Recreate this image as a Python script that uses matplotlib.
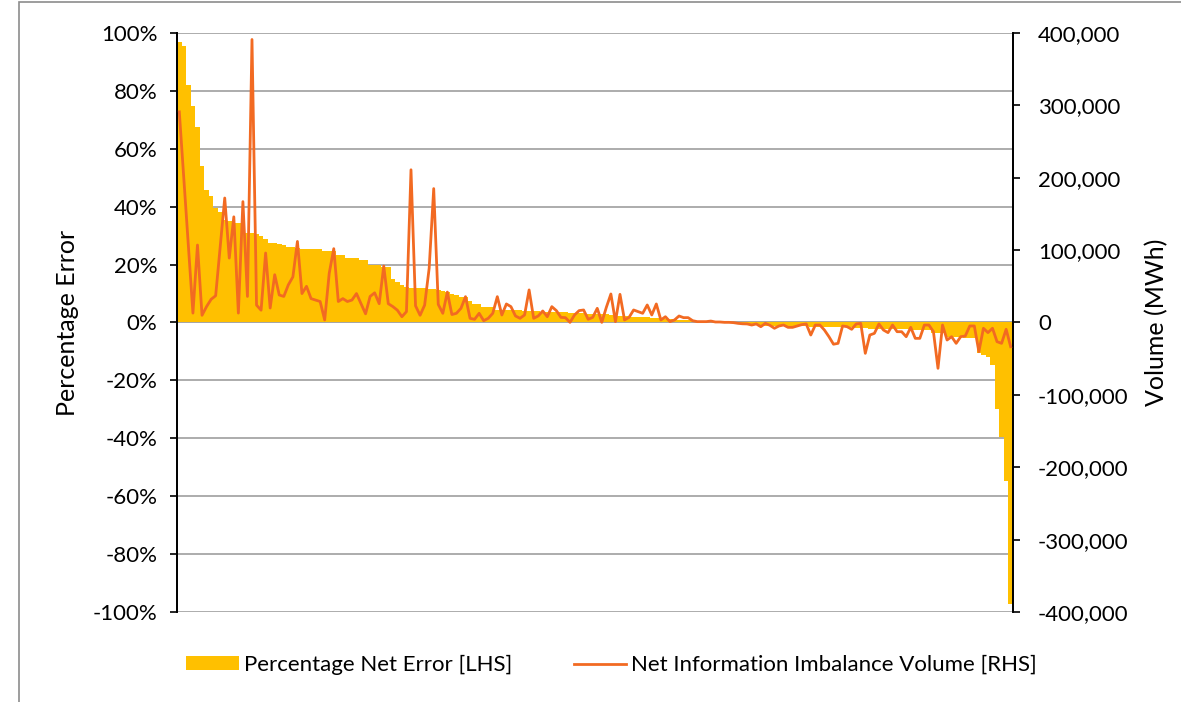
import matplotlib.pyplot as plt
from matplotlib.patches import Patch, Rectangle
from matplotlib.lines import Line2D
from matplotlib.ticker import FuncFormatter

plt.rcParams['font.family'] = ['Lato', 'DejaVu Sans']

# percentage net error per settlement unit, sorted (LHS, %)
pct_error = [
    96.8, 95.5, 82.0, 74.8, 67.4, 54.2, 45.8, 43.8, 39.4, 38.3,
    35.5, 35.0, 34.5, 34.2, 34.0, 30.8, 30.8, 30.6, 29.9, 29.0,
    27.6, 27.4, 27.0, 26.8, 26.2, 26.0, 25.6, 25.5, 25.3, 25.3,
    25.3, 25.3, 24.8, 24.8, 24.8, 23.3, 23.3, 22.2, 22.2, 22.2,
    21.6, 21.6, 20.0, 20.0, 20.0, 19.3, 19.3, 15.0, 14.0, 13.0,
    12.4, 12.0, 11.9, 11.8, 11.8, 11.7, 11.5, 11.2, 10.8, 10.6,
    9.8, 9.6, 8.9, 8.8, 7.5, 6.4, 6.4, 5.5, 5.5, 5.4,
    4.3, 4.3, 4.3, 4.2, 4.2, 4.2, 4.1, 4.1, 4.1, 4.0,
    3.7, 3.6, 3.5, 3.5, 3.5, 3.5, 3.4, 3.3, 3.2, 3.2,
    3.0, 2.9, 2.9, 2.9, 2.8, 2.7, 2.3, 2.2, 2.2, 2.1,
    2.0, 1.9, 1.8, 1.8, 1.7, 1.6, 1.5, 1.3, 1.2, 1.1,
    1.0, 0.9, 0.8, 0.7, 0.6, 0.4, 0.3, 0.3, 0.2, 0.2,
    0.1, 0.1, 0.0, -0.1, -0.2, -0.3, -0.5, -0.7, -0.9, -1.1,
    -1.1, -1.1, -1.2, -1.2, -1.2, -1.2, -1.3, -1.3, -1.3, -1.4,
    -1.4, -1.4, -1.5, -1.5, -1.5, -1.6, -1.6, -1.7, -1.7, -1.8,
    -2.0, -2.0, -2.1, -2.1, -2.2, -2.2, -2.3, -2.3, -2.3, -2.4,
    -2.4, -2.4, -2.5, -2.5, -2.6, -2.6, -3.7, -3.7, -3.8, -4.9,
    -4.9, -5.0, -5.1, -5.2, -5.3, -5.4, -10.5, -11.2, -11.8, -14.7,
    -30.0, -39.4, -54.6, -97.2,
]

# net information imbalance volume (RHS, thousand MWh)
volume_k = [
    291, 198, 106, 13, 107, 10, 22, 32, 37, 105,
    172, 89, 146, 13, 167, 36, 391, 24, 17, 96,
    20, 66, 38, 36, 52, 63, 112, 40, 50, 33,
    31, 29, 3.5, 68, 102, 29, 33, 29, 31, 40,
    26, 12, 36, 41, 26, 78, 26, 22, 17, 8,
    15, 211, 23, 10, 24, 75, 185, 25, 12.7, 42,
    11, 12.7, 19.6, 35.7, 5.8, 4.4, 12.7, 2.5, 5.8, 12.7,
    35.7, 10.4, 25.6, 21.9, 9, 5.8, 10.4, 45, 5.8, 9,
    15.9, 8, 21.9, 16.4, 7.1, 6.7, 0.2, 10.4, 16.4, 17.3,
    4.4, 7.1, 19.6, 0.2, 21, 39.4, 1.2, 38.9, 3.5, 7.1,
    17.3, 15, 12.7, 24.2, 10.4, 25.6, 3.5, 8, 1.2, 3.5,
    9, 6.7, 6.7, 2.5, 1.2, 1.2, 1.2, 2, 0.7, 0.7,
    0.2, 0.2, -0.2, -1.2, -1.8, -2, -3.5, -2, -5.8, -1.2,
    -3.9, -8, -4.8, -3.5, -6.7, -6.7, -4.8, -3, -2, -17.3,
    -3.5, -3.5, -10.4, -19.6, -30, -28.8, -4.8, -5.8, -9.4, -2,
    -1.2, -42.6, -17.3, -15, -2, -10.4, -14, -3.5, -12.7, -12.7,
    -19.6, -6.7, -21.9, -21.9, -3.5, -3.5, -12.7, -63.3, -3.5, -24.2,
    -19.6, -28.8, -19.6, -18.7, -4.8, -4.8, -40.3, -8, -14, -8,
    -26.5, -28.8, -9.4, -33.4,
]

pct_ticks = [-100, -80, -60, -40, -20, 0, 20, 40, 60, 80, 100]
vol_ticks = [-400000, -300000, -200000, -100000, 0, 100000, 200000, 300000, 400000]

bar_color = '#FFC000'
line_color = '#F26A22'
grid_color = '#A6A6A6'

fig = plt.figure(figsize=(11.81, 7.02), dpi=100)
ax = fig.add_axes([0.1499, 0.1282, 0.7078, 0.8248])

x = list(range(len(pct_error)))
ax.bar(x, pct_error, width=1.0, color=bar_color, linewidth=0, zorder=2)
ax.set_xlim(-0.5, len(pct_error) - 0.5)
ax.set_ylim(-100, 100)
ax.set_yticks(pct_ticks)
ax.yaxis.set_major_formatter(FuncFormatter(lambda v, p: f'{v:.0f}%'))
ax.grid(axis='y', color=grid_color, linewidth=1.3, zorder=0)
ax.set_axisbelow(True)
ax.axhline(0, color=grid_color, linewidth=1.3, zorder=1)
ax.set_xticks([])
ax.set_ylabel('Percentage Error', fontsize=18, labelpad=10)
ax.tick_params(axis='y', labelsize=16, length=5, width=1.2, direction='out', pad=9)

ax2 = ax.twinx()
ax2.plot(x, [v * 1000 for v in volume_k], color=line_color, linewidth=2.0, zorder=3)
ax2.set_ylim(-400000, 400000)
ax2.set_yticks(vol_ticks)
ax2.yaxis.set_major_formatter(FuncFormatter(lambda v, p: f'{v:,.0f}'))
ax2.set_ylabel('Volume (MWh)', fontsize=18, labelpad=12)
ax2.tick_params(axis='y', labelsize=16, length=5, width=1.2, direction='out', pad=13)

for a in (ax, ax2):
    a.spines['top'].set_visible(False)
    a.spines['bottom'].set_visible(False)
    a.spines['left'].set_linewidth(1.3)
    a.spines['right'].set_linewidth(1.3)

handles = [
    Patch(facecolor=bar_color, edgecolor='none'),
    Line2D([0], [0], color=line_color, linewidth=2.0),
]
labels = ['Percentage Net Error [LHS]', 'Net Information Imbalance Volume [RHS]']
fig.legend(handles, labels, loc='center', bbox_to_anchor=(0.518, 0.053), ncol=2,
           frameon=False, fontsize=16, handlelength=2.35, handleheight=0.55,
           handletextpad=0.25, columnspacing=2.75)

# chart area border
fig.patches.append(Rectangle((19 / 1181, -0.1), 1.2, 1.1 - 2 / 702,
                             transform=fig.transFigure, fill=False,
                             edgecolor='#8C8C8C', linewidth=1.2))

fig.savefig('out.png', dpi=100)
plt.close(fig)
